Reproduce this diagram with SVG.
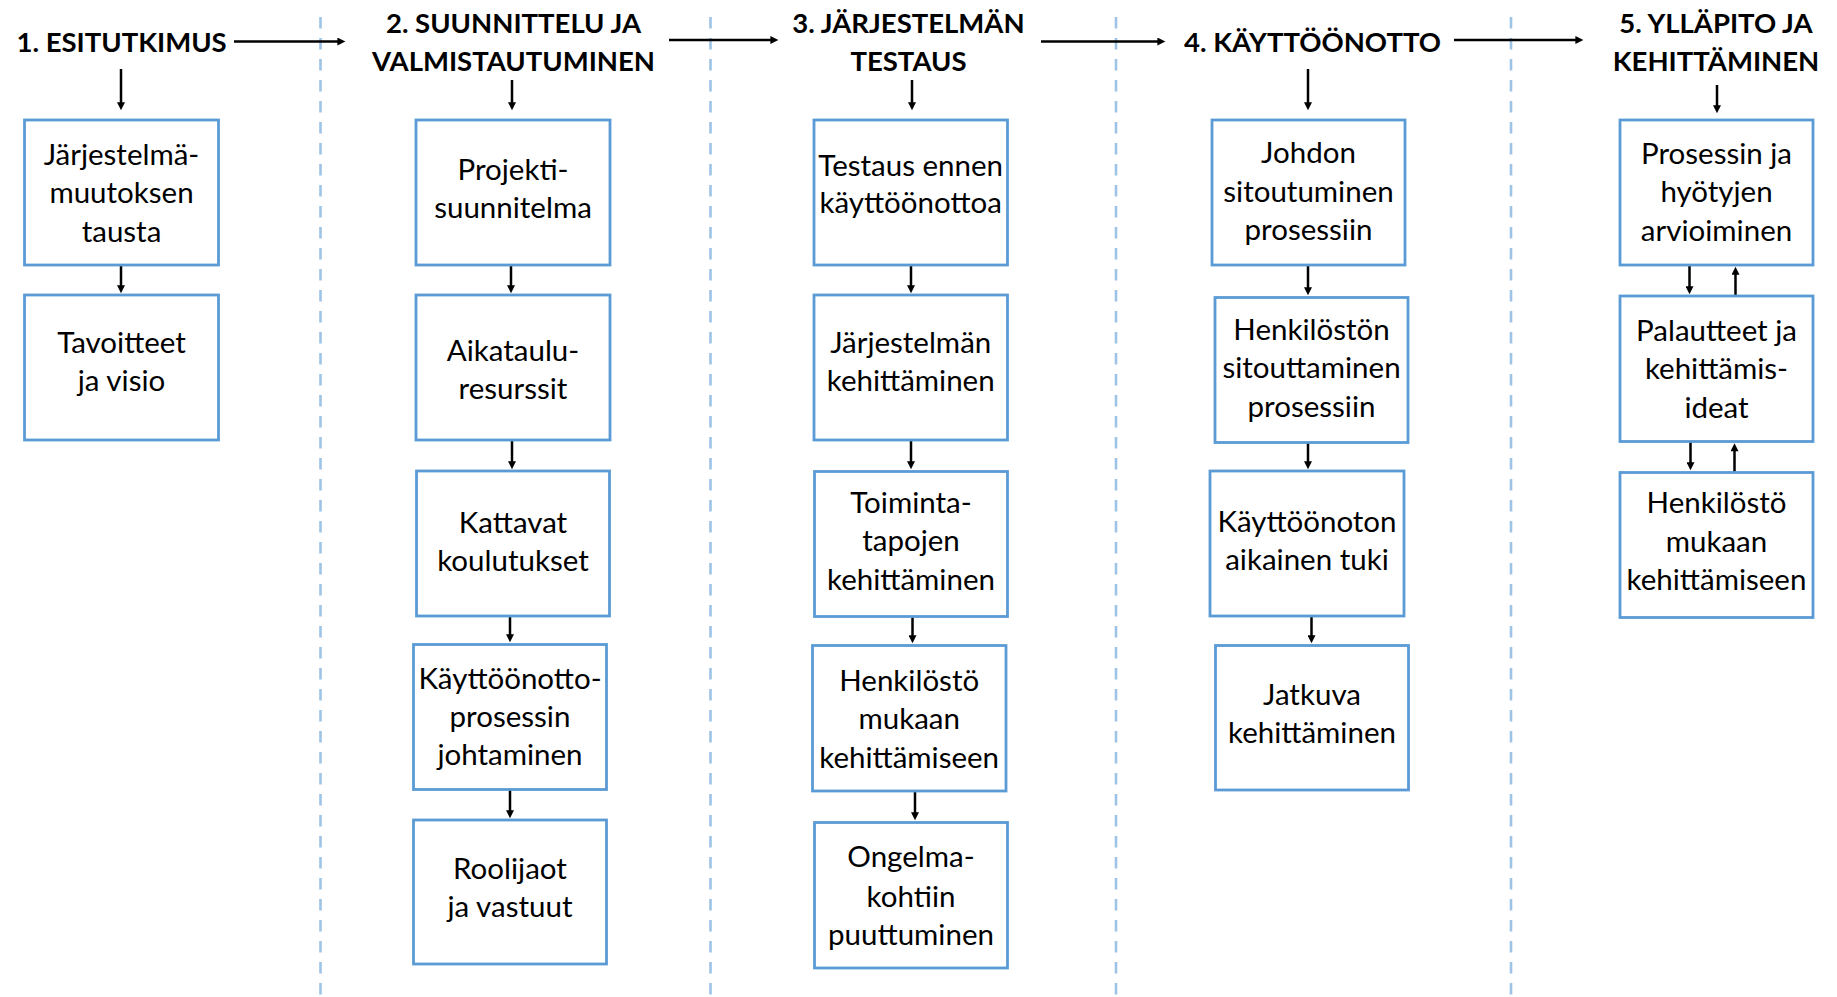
<svg xmlns="http://www.w3.org/2000/svg" width="1837" height="997" viewBox="0 0 1837 997">
<style>
.box{fill:#fff;stroke:#5B9BD5;stroke-width:2.8}
.t{font-family:Lato,"Open Sans","Liberation Sans",sans-serif;font-size:29.5px;fill:#000;text-anchor:middle}
.h{font-family:Lato,"Open Sans","Liberation Sans",sans-serif;font-size:27.5px;font-weight:bold;fill:#000;text-anchor:middle}
.sep{stroke:#9DC3E6;stroke-width:2.6;stroke-dasharray:11.5 9.5;fill:none}
.c{stroke:#000;stroke-width:2.5;fill:none;marker-end:url(#ah)}
</style>
<defs>
<marker id="ah" viewBox="0 0 10 10" refX="3.3" refY="5" markerUnits="userSpaceOnUse" markerWidth="9" markerHeight="8" orient="auto">
<path d="M0,0 L10,5 L0,10 z" fill="#000"/>
</marker>
</defs>
<rect width="1837" height="997" fill="#fff"/>
<g id="separators">
<line class="sep" x1="320.5" y1="17" x2="320.5" y2="997"/>
<line class="sep" x1="710.5" y1="17" x2="710.5" y2="997"/>
<line class="sep" x1="1116" y1="17" x2="1116" y2="997"/>
<line class="sep" x1="1511" y1="17" x2="1511" y2="997"/>
</g>
<g id="connectors">
<line class="c" x1="234" y1="41.5" x2="340" y2="41.5"/>
<line class="c" x1="669" y1="40" x2="773" y2="40"/>
<line class="c" x1="1041" y1="41.5" x2="1160" y2="41.5"/>
<line class="c" x1="1454" y1="40" x2="1578" y2="40"/>
<line class="c" x1="121" y1="69" x2="121" y2="105"/>
<line class="c" x1="512" y1="80" x2="512" y2="105"/>
<line class="c" x1="912" y1="80" x2="912" y2="105"/>
<line class="c" x1="1308" y1="69" x2="1308" y2="105"/>
<line class="c" x1="1717" y1="85" x2="1717" y2="108"/>
<line class="c" x1="121" y1="265" x2="121" y2="288"/>
<line class="c" x1="511" y1="265" x2="511" y2="288"/>
<line class="c" x1="512" y1="440" x2="512" y2="464"/>
<line class="c" x1="510" y1="616" x2="510" y2="637"/>
<line class="c" x1="510" y1="790" x2="510" y2="813"/>
<line class="c" x1="911" y1="265" x2="911" y2="288"/>
<line class="c" x1="911" y1="440" x2="911" y2="464"/>
<line class="c" x1="912.5" y1="616" x2="912.5" y2="638"/>
<line class="c" x1="915" y1="791" x2="915" y2="815"/>
<line class="c" x1="1308" y1="265" x2="1308" y2="290"/>
<line class="c" x1="1308" y1="443" x2="1308" y2="464"/>
<line class="c" x1="1311.5" y1="616" x2="1311.5" y2="638"/>
<line class="c" x1="1689.5" y1="265" x2="1689.5" y2="289"/>
<line class="c" x1="1735.5" y1="296" x2="1735.5" y2="272"/>
<line class="c" x1="1690.5" y1="441.5" x2="1690.5" y2="465"/>
<line class="c" x1="1734.5" y1="472" x2="1734.5" y2="448.5"/>
</g>
<g id="title1"><text class="h" x="121.6" y="51.7">1. ESITUTKIMUS</text></g>
<g id="title2"><text class="h" x="513.5" y="33.3">2. SUUNNITTELU JA</text><text class="h" x="513.5" y="71">VALMISTAUTUMINEN</text></g>
<g id="title3"><text class="h" x="908.5" y="33.3">3. JÄRJESTELMÄN</text><text class="h" x="908.5" y="71">TESTAUS</text></g>
<g id="title4"><text class="h" x="1312.5" y="51.7">4. KÄYTTÖÖNOTTO</text></g>
<g id="title5"><text class="h" x="1716" y="33.3">5. YLLÄPITO JA</text><text class="h" x="1716" y="71">KEHITTÄMINEN</text></g>

<g id="n1a"><rect class="box" x="24.5" y="120" width="194" height="145"/><text class="t" x="121.5" y="165">Järjestelmä-</text><text class="t" x="121.5" y="203.3">muutoksen</text><text class="t" x="121.5" y="241.7">tausta</text></g>
<g id="n1b"><rect class="box" x="24.5" y="295" width="194" height="145"/><text class="t" x="121.5" y="352.7">Tavoitteet</text><text class="t" x="121.5" y="390.7">ja visio</text></g>

<g id="n2a"><rect class="box" x="416" y="120" width="194" height="145"/><text class="t" x="513" y="180">Projekti-</text><text class="t" x="513" y="218.3">suunnitelma</text></g>
<g id="n2b"><rect class="box" x="416" y="295" width="194" height="145"/><text class="t" x="513" y="361">Aikataulu-</text><text class="t" x="513" y="399">resurssit</text></g>
<g id="n2c"><rect class="box" x="416.5" y="471" width="193" height="145"/><text class="t" x="513" y="532.5">Kattavat</text><text class="t" x="513" y="570.5">koulutukset</text></g>
<g id="n2d"><rect class="box" x="413.5" y="644.5" width="193" height="145"/><text class="t" x="510" y="688.5">Käyttöönotto-</text><text class="t" x="510" y="726.5">prosessin</text><text class="t" x="510" y="764.5">johtaminen</text></g>
<g id="n2e"><rect class="box" x="413.5" y="820" width="193" height="144"/><text class="t" x="510" y="879.3">Roolijaot</text><text class="t" x="510" y="916.7">ja vastuut</text></g>

<g id="n3a"><rect class="box" x="814" y="120" width="193.5" height="145"/><text class="t" x="910.7" y="176">Testaus ennen</text><text class="t" x="910.7" y="213.3">käyttöönottoa</text></g>
<g id="n3b"><rect class="box" x="814" y="295" width="193.5" height="145"/><text class="t" x="910.7" y="352.7">Järjestelmän</text><text class="t" x="910.7" y="390.7">kehittäminen</text></g>
<g id="n3c"><rect class="box" x="814.5" y="471.5" width="193" height="145"/><text class="t" x="911" y="513">Toiminta-</text><text class="t" x="911" y="551">tapojen</text><text class="t" x="911" y="589.7">kehittäminen</text></g>
<g id="n3d"><rect class="box" x="812.5" y="645.5" width="193.5" height="145.5"/><text class="t" x="909.2" y="690.5">Henkilöstö</text><text class="t" x="909.2" y="729.3">mukaan</text><text class="t" x="909.2" y="768">kehittämiseen</text></g>
<g id="n3e"><rect class="box" x="814.5" y="822.5" width="193" height="145.5"/><text class="t" x="911" y="867.3">Ongelma-</text><text class="t" x="911" y="906.7">kohtiin</text><text class="t" x="911" y="945">puuttuminen</text></g>

<g id="n4a"><rect class="box" x="1212" y="120" width="193" height="145"/><text class="t" x="1308.5" y="163.3">Johdon</text><text class="t" x="1308.5" y="201.7">sitoutuminen</text><text class="t" x="1308.5" y="240">prosessiin</text></g>
<g id="n4b"><rect class="box" x="1215" y="297.5" width="193" height="145"/><text class="t" x="1311.5" y="340">Henkilöstön</text><text class="t" x="1311.5" y="378.3">sitouttaminen</text><text class="t" x="1311.5" y="416.7">prosessiin</text></g>
<g id="n4c"><rect class="box" x="1210" y="471" width="194" height="145"/><text class="t" x="1307" y="531.7">Käyttöönoton</text><text class="t" x="1307" y="570">aikainen tuki</text></g>
<g id="n4d"><rect class="box" x="1215.5" y="645.5" width="193" height="144.5"/><text class="t" x="1312" y="705">Jatkuva</text><text class="t" x="1312" y="743.3">kehittäminen</text></g>

<g id="n5a"><rect class="box" x="1620" y="120" width="193" height="145"/><text class="t" x="1716.5" y="164.3">Prosessin ja</text><text class="t" x="1716.5" y="202.3">hyötyjen</text><text class="t" x="1716.5" y="240.7">arvioiminen</text></g>
<g id="n5b"><rect class="box" x="1620" y="296" width="193" height="145.5"/><text class="t" x="1716.5" y="341">Palautteet ja</text><text class="t" x="1716.5" y="379.3">kehittämis-</text><text class="t" x="1716.5" y="417.7">ideat</text></g>
<g id="n5c"><rect class="box" x="1620" y="472.5" width="193" height="145"/><text class="t" x="1716.5" y="513.3">Henkilöstö</text><text class="t" x="1716.5" y="551.7">mukaan</text><text class="t" x="1716.5" y="590">kehittämiseen</text></g>
</svg>
